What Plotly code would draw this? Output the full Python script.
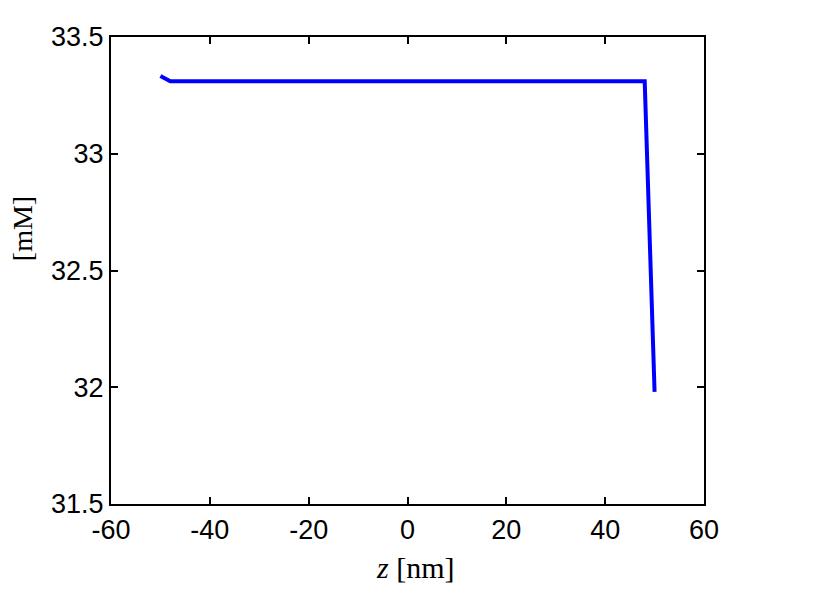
import plotly.graph_objects as go

z_nm = [-50, -48, 48, 50]
conc_mM = [33.333, 33.31, 33.31, 31.98]

x_ticks = [-60, -40, -20, 0, 20, 40, 60]
y_ticks = [31.5, 32, 32.5, 33, 33.5]

fig = go.Figure()
fig.add_trace(go.Scatter(x=z_nm, y=conc_mM, mode="lines",
                         line=dict(color="#0000ff", width=4), showlegend=False))

axis_common = dict(showline=True, linecolor="black", linewidth=2, mirror="ticks",
                   ticks="inside", ticklen=7, tickwidth=2, tickcolor="black",
                   showgrid=False, zeroline=False, automargin=False,
                   tickfont=dict(family="Liberation Sans, Arial", size=27, color="black"))

serif = dict(family="Liberation Serif, Times New Roman", size=30, color="black")
serif_y = dict(family="Liberation Serif, Times New Roman", size=28, color="black")

fig.update_layout(
    width=834, height=595,
    margin=dict(l=103, r=138, t=29, b=99),
    paper_bgcolor="white", plot_bgcolor="white",
    xaxis=dict(range=[-60, 60], tickvals=x_ticks, ticktext=[str(v) for v in x_ticks],
               ticklabelstandoff=1, **axis_common),
    yaxis=dict(range=[31.5, 33.5], tickvals=y_ticks, ticktext=["31.5", "32", "32.5", "33", "33.5"],
               ticklabelstandoff=0, **axis_common),
    annotations=[
        dict(text="<i>z</i> [nm]", xref="paper", yref="paper", x=0.513, y=-0.137,
             xanchor="center", yanchor="middle", showarrow=False, font=serif),
        dict(text="[mM]", xref="paper", yref="paper", x=-0.148, y=0.589, textangle=-90,
             xanchor="center", yanchor="middle", showarrow=False, font=serif_y),
    ],
)
fig.write_html("out.html")
